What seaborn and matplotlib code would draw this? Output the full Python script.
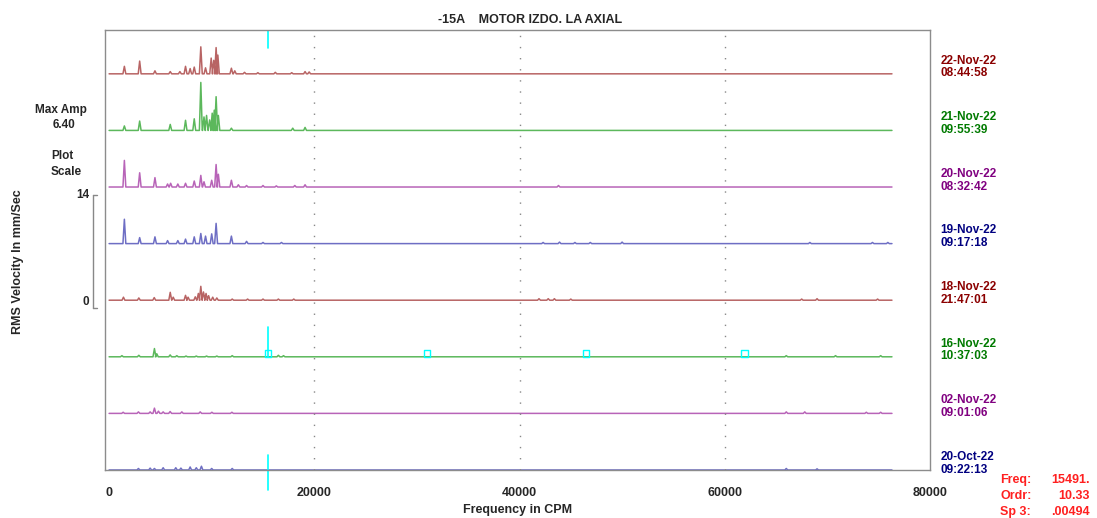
import numpy as np
import pandas as pd
import matplotlib.pyplot as plt
import matplotlib.transforms as mtransforms
import seaborn as sns

# Waterfall spectra: peak frequencies (CPM) and amplitudes (mm/s) per date
dates = ['22-Nov-22', '21-Nov-22', '20-Nov-22', '19-Nov-22',
         '18-Nov-22', '16-Nov-22', '02-Nov-22', '20-Oct-22']
times = ['08:44:58', '09:55:39', '08:32:42', '09:17:18',
         '21:47:01', '10:37:03', '09:01:06', '09:22:13']

f1 = [1490, 2980, 4470, 5960, 6900, 7450, 7900, 8300, 8940, 9400, 9950, 10200, 10430, 10600,
      11920, 12250, 13200, 14500, 16200, 17800, 19100, 19500]
a1 = [1.0, 1.7, 0.4, 0.3, 0.3, 1.0, 0.7, 0.9, 3.6, 0.8, 2.1, 1.8, 3.5, 2.5,
      0.75, 0.4, 0.2, 0.15, 0.2, 0.15, 0.3, 0.25]

f2 = [1490, 2980, 5960, 7450, 8300, 8940, 9250, 9500, 9800, 10050, 10250, 10430, 10650,
      11920, 17900, 19100]
a2 = [0.6, 1.25, 0.8, 1.35, 1.55, 6.4, 1.8, 2.0, 1.4, 2.3, 2.7, 4.5, 2.0,
      0.3, 0.3, 0.4]

f3 = [1490, 2980, 4470, 5700, 6000, 6700, 7450, 8300, 8940, 9250, 10000, 10430, 10650,
      11920, 12600, 13400, 15000, 16300, 18100, 19100, 43800]
a3 = [3.55, 1.9, 1.25, 0.4, 0.5, 0.4, 0.5, 0.8, 1.55, 0.7, 0.9, 3.0, 1.7,
      0.9, 0.3, 0.2, 0.2, 0.15, 0.2, 0.3, 0.2]

f4 = [1490, 2980, 4470, 5700, 6700, 7450, 8300, 8940, 9400, 10000, 10430, 11920, 13400,
      15000, 16800, 42300, 43900, 45400, 46900, 50000, 68300, 74400, 75900]
a4 = [3.25, 0.8, 0.9, 0.4, 0.4, 0.6, 0.9, 1.35, 1.0, 1.3, 2.7, 1.0, 0.3,
      0.15, 0.15, 0.15, 0.2, 0.15, 0.15, 0.2, 0.15, 0.15, 0.15]

f5 = [1400, 2900, 4400, 5960, 6250, 7450, 7700, 8400, 8700, 8940, 9200, 9450, 9700, 10100,
      10500, 12000, 13500, 15000, 16500, 18000, 41900, 42800, 43400, 45000, 67500, 69000, 74900]
a5 = [0.4, 0.3, 0.35, 1.05, 0.4, 0.65, 0.4, 0.45, 0.9, 1.85, 1.1, 0.9, 0.6, 0.4,
      0.3, 0.15, 0.15, 0.15, 0.15, 0.15, 0.2, 0.2, 0.2, 0.15, 0.15, 0.2, 0.15]

f6 = [1250, 2900, 4420, 4650, 5950, 6600, 7500, 8500, 9500, 10500, 12000, 16500, 17000,
      66000, 70800, 75200]
a6 = [0.15, 0.2, 1.1, 0.4, 0.25, 0.15, 0.1, 0.1, 0.1, 0.1, 0.15, 0.2, 0.15,
      0.15, 0.15, 0.15]

f7 = [1370, 2860, 4000, 4420, 4810, 5270, 5950, 7090, 8880, 10020, 11970, 66000, 67800,
      73800, 75200]
a7 = [0.15, 0.2, 0.2, 0.7, 0.3, 0.2, 0.25, 0.2, 0.2, 0.15, 0.15, 0.2, 0.2,
      0.15, 0.15]

f8 = [2860, 4000, 4420, 5270, 6500, 7000, 7900, 8500, 9000, 10000, 12000, 66000, 69000]
a8 = [0.2, 0.25, 0.2, 0.3, 0.3, 0.25, 0.4, 0.3, 0.5, 0.2, 0.2, 0.2, 0.15]

peak_freqs = [f1, f2, f3, f4, f5, f6, f7, f8]
peak_amps = [a1, a2, a3, a4, a5, a6, a7, a8]

f_max = 76300
cursor_freq = 15491.
harmonic_marks = [15491, 30982, 46473, 61964]

line_colors = ['#b86464', '#5cb85c', '#b864b8', '#6e6ec4'] * 2
text_colors = ['#8b0000', '#007a00', '#800080', '#000080'] * 2

sns.set_style('white')
plt.rcParams['font.family'] = ['Liberation Sans', 'DejaVu Sans']
plt.rcParams['font.weight'] = 'bold'

fig = plt.figure(figsize=(10.97, 5.18), dpi=100)
ax = fig.add_axes([0.0957, 0.0927, 0.752, 0.849])

step = 7.55
ytop = 58.67
n = len(dates)
trans = mtransforms.blended_transform_factory(ax.transAxes, ax.transData)

for i in range(n):
    base = (n - 1 - i) * step
    xs = [0.0]
    ys = [0.0]
    for f, a in zip(peak_freqs[i], peak_amps[i]):
        xs += [f - 140, f, f + 140]
        ys += [0.0, a, 0.0]
    xs.append(f_max)
    ys.append(0.0)
    df = pd.DataFrame({'freq': xs, 'amp': np.array(ys) + base})
    sns.lineplot(data=df, x='freq', y='amp', ax=ax, color=line_colors[i],
                 lw=1.1, estimator=None, sort=False, clip_on=False)
    # date / time labels on the right
    ax.text(1.013, base + 1.75, dates[i], transform=trans,
            color=text_colors[i], fontsize=8.5, fontweight='bold', va='center', ha='left')
    ax.text(1.013, base + 0.05, times[i], transform=trans,
            color=text_colors[i], fontsize=8.5, fontweight='bold', va='center', ha='left')

# dotted grid
for gx in [20000, 40000, 60000]:
    ax.axvline(gx, color='#888888', lw=1.0, ls=(0, (1, 7)))

# cursor markers
ax.plot([cursor_freq, cursor_freq], [ytop, ytop - 2.4], color='cyan', lw=1.2)
ax.plot([cursor_freq, cursor_freq], [2.0, -2.7], color='cyan', lw=1.2, clip_on=False)
b6 = 2 * step
ax.plot([cursor_freq, cursor_freq], [b6, b6 + 4.0], color='cyan', lw=1.2)
ax.scatter(harmonic_marks, [b6 + 0.4] * len(harmonic_marks), marker='s', s=24,
           facecolors='none', edgecolors='cyan', linewidths=1.0, zorder=5)

ax.set_xlim(-400, 80000)
ax.set_ylim(0, ytop)
ax.set_xticks([0, 20000, 40000, 60000, 80000])
ax.set_xticklabels(['0', '20000', '40000', '60000', '80000'], fontsize=9, fontweight='bold')
ax.set_yticks([])
ax.tick_params(axis='x', length=0, pad=12)
for s in ax.spines.values():
    s.set_color('#8c8c8c')
    s.set_linewidth(1.0)
ax.set_xlabel('Frequency in CPM', fontsize=9, fontweight='bold', labelpad=4)
ax.set_ylabel('')

fig.text(0.483, 0.962, '-15A    MOTOR IZDO. LA AXIAL', ha='center', va='center',
         fontsize=9, fontweight='bold')
fig.text(0.016, 0.495, 'RMS Velocity In mm/Sec', rotation=90, ha='center', va='center',
         fontsize=9, fontweight='bold')

# left plot scale legend
fig.text(0.056, 0.788, 'Max Amp', ha='center', va='center', fontsize=8.5, fontweight='bold')
fig.text(0.058, 0.758, '6.40', ha='center', va='center', fontsize=8.5, fontweight='bold')
fig.text(0.057, 0.698, 'Plot', ha='center', va='center', fontsize=8.5, fontweight='bold')
fig.text(0.060, 0.668, 'Scale', ha='center', va='center', fontsize=8.5, fontweight='bold')
b5 = 3 * step
ax.plot([-0.0145, -0.0145], [b5 - 1.0, b5 + 14], color='#888888', lw=1.0, transform=trans, clip_on=False)
ax.plot([-0.0145, -0.0095], [b5 + 14, b5 + 14], color='#888888', lw=1.0, transform=trans, clip_on=False)
ax.plot([-0.0145, -0.0095], [b5 - 1.0, b5 - 1.0], color='#888888', lw=1.0, transform=trans, clip_on=False)
ax.text(-0.019, b5 + 14, '14', transform=trans, ha='right', va='center', fontsize=8.5, fontweight='bold')
ax.text(-0.019, b5 - 0.2, '0', transform=trans, ha='right', va='center', fontsize=8.5, fontweight='bold')

# cursor readout
red = '#ff2020'
fig.text(0.912, 0.073, 'Freq:', color=red, fontsize=9, fontweight='bold', va='center')
fig.text(0.993, 0.073, '15491.', color=red, fontsize=9, fontweight='bold', va='center', ha='right')
fig.text(0.912, 0.042, 'Ordr:', color=red, fontsize=9, fontweight='bold', va='center')
fig.text(0.993, 0.042, '10.33', color=red, fontsize=9, fontweight='bold', va='center', ha='right')
fig.text(0.912, 0.012, 'Sp 3:', color=red, fontsize=9, fontweight='bold', va='center')
fig.text(0.993, 0.012, '.00494', color=red, fontsize=9, fontweight='bold', va='center', ha='right')

fig.savefig('out.png', dpi=100)
